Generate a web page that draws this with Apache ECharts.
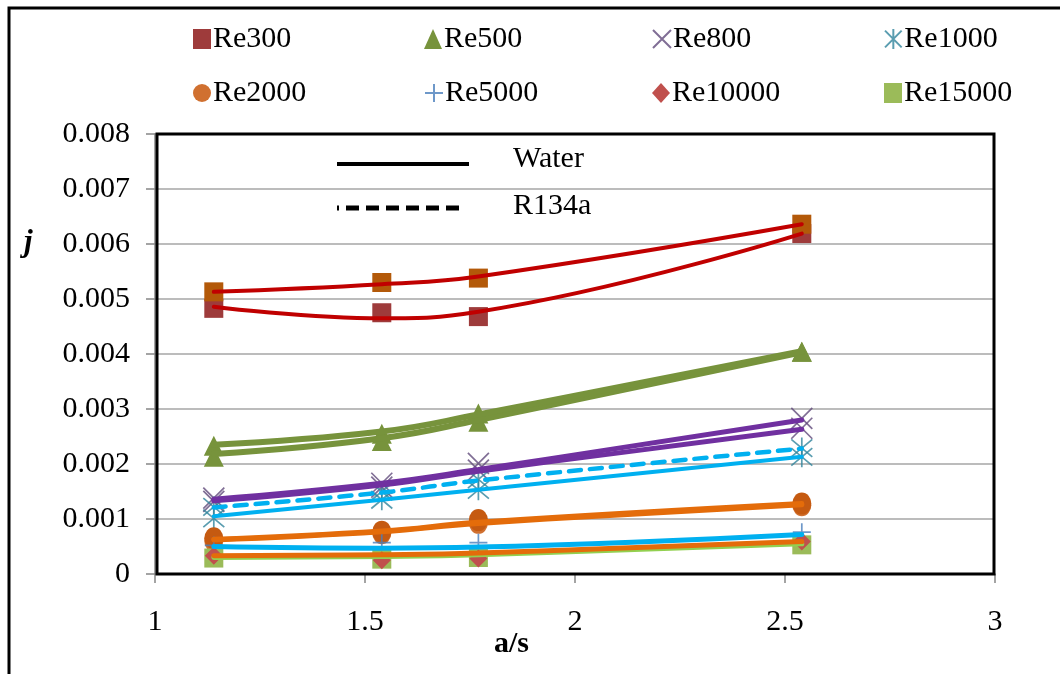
<!DOCTYPE html>
<html>
<head>
<meta charset="utf-8">
<script src="https://cdn.jsdelivr.net/npm/echarts@6/dist/echarts.min.js"></script>
<style>
html,body{margin:0;padding:0;background:#fff;}
#chart{width:1060px;height:674px;}
</style>
</head>
<body>
<div id="chart"></div>
<script>
// ---- data ----
const xVals = [1.14, 1.54, 1.77, 2.54];
const xTicks = ['1', '1.5', '2', '2.5', '3'];
const yTicks = ['0', '0.001', '0.002', '0.003', '0.004', '0.005', '0.006', '0.007', '0.008'];
const legendNames = ['Re300', 'Re500', 'Re800', 'Re1000', 'Re2000', 'Re5000', 'Re10000', 'Re15000'];

// markers (water / R134a) and trend lines (water / R134a)
const re300WaterMk = [0.00483, 0.00475, 0.00468, 0.00619];
const re300WaterLn = [0.00486, 0.00465, 0.00477, 0.00619];
const re300R134Mk  = [0.00513, 0.00530, 0.00538, 0.00636];
const re300R134Ln  = [0.00513, 0.00527, 0.00541, 0.00636];

const re500WaterMk = [0.00213, 0.00242, 0.00277, 0.00404];
const re500WaterLn = [0.00218, 0.00247, 0.00280, 0.00403];
const re500R134Mk  = [0.00233, 0.00255, 0.00292, 0.00404];
const re500R134Ln  = [0.00235, 0.00259, 0.00290, 0.00405];

const re800WaterMk = [0.00132, 0.00158, 0.00189, 0.00265];
const re800WaterLn = [0.00133, 0.00162, 0.00187, 0.00263];
const re800R134Mk  = [0.00138, 0.00165, 0.00201, 0.00283];
const re800R134Ln  = [0.00136, 0.00165, 0.00190, 0.00280];

const re1000WaterMk = [0.00101, 0.00135, 0.00153, 0.00213];
const re1000WaterLn = [0.00105, 0.00135, 0.00153, 0.00213];
const re1000R134Mk  = [0.00122, 0.00150, 0.00172, 0.00229];
const re1000R134Ln  = [0.00121, 0.00148, 0.00170, 0.00228];

const re2000WaterMk = [0.00060, 0.00074, 0.00093, 0.00125];
const re2000WaterLn = [0.00062, 0.00077, 0.00092, 0.00126];
const re2000R134Mk  = [0.00065, 0.00077, 0.00098, 0.00128];
const re2000R134Ln  = [0.00063, 0.00078, 0.00094, 0.00128];

const re5000Mk = [0.00052, 0.00057, 0.00057, 0.00076];
const re5000Ln = [0.00050, 0.00047, 0.00049, 0.00072];

const re10000Mk = [0.00033, 0.00025, 0.00028, 0.00059];
const re10000Ln = [0.00033, 0.00035, 0.00038, 0.00059];

const re15000Mk = [0.00029, 0.00027, 0.00030, 0.00053];
const re15000Ln = [0.00030, 0.00032, 0.00035, 0.00055];

// ---- helpers ----
const FONT = 'Liberation Serif';
const FS = 30;
const pts = arr => xVals.map((x, i) => [x, arr[i]]);
const X_PATH = 'path://M0,0 L10,10 M10,0 L0,10';
const STAR_PATH = 'path://M0,0 L10,10 M10,0 L0,10 M5,-1 L5,11';
const PLUS_PATH = 'path://M5,0 L5,10 M0,5 L10,5';

function ln(arr, color, width, dashed) {
  return {
    type: 'line', data: pts(arr), smooth: 0.45, symbol: 'none', showSymbol: false,
    lineStyle: { color: color, width: width, type: dashed ? [12, 9] : 'solid', cap: 'round' },
    z: 4, silent: true, legendHoverLink: false
  };
}
function mk(name, arr, symbol, size, color, stroke) {
  const s = {
    type: 'scatter', name: name, data: pts(arr), symbol: symbol, symbolSize: size, z: 2, silent: true
  };
  if (stroke) {
    s.itemStyle = { color: 'rgba(0,0,0,0)', borderColor: color, borderWidth: 1.7 };
  } else {
    s.itemStyle = { color: color, opacity: 1 };
  }
  return s;
}

const series = [
  mk('Re300', re300WaterMk, 'rect', 19, '#9E3B3B'),
  mk('Re300b', re300R134Mk, 'rect', 19, '#B35909'),
  mk('Re500', re500WaterMk, 'triangle', 20, '#77933C'),
  mk('Re500b', re500R134Mk, 'triangle', 20, '#77933C'),
  mk('Re800', re800WaterMk, X_PATH, 21, '#604A7B', true),
  mk('Re800b', re800R134Mk, X_PATH, 21, '#604A7B', true),
  mk('Re1000', re1000WaterMk, STAR_PATH, 21, '#31859C', true),
  mk('Re1000b', re1000R134Mk, STAR_PATH, 21, '#31859C', true),
  mk('Re2000', re2000WaterMk, 'circle', [19, 22], '#D07030'),
  mk('Re2000b', re2000R134Mk, 'circle', [19, 22], '#C55A11'),
  mk('Re5000', re5000Mk, PLUS_PATH, 18, '#4A7EBB', true),
  mk('Re15000', re15000Mk, 'rect', 19, '#9BBB59'),
  mk('Re10000', re10000Mk, 'diamond', 18, '#C0504D'),

  ln(re300WaterLn, '#C00000', 4),
  ln(re300R134Ln, '#C00000', 4),
  ln(re500WaterLn, '#77933C', 6),
  ln(re500R134Ln, '#77933C', 6),
  ln(re800WaterLn, '#7030A0', 5),
  ln(re800R134Ln, '#7030A0', 5),
  ln(re1000WaterLn, '#00B0F0', 4),
  ln(re1000R134Ln, '#00B0F0', 4.5, true),
  ln(re2000WaterLn, '#E46C0A', 5),
  ln(re2000R134Ln, '#E46C0A', 5),
  ln(re15000Ln, '#92D050', 5),
  ln(re5000Ln, '#00B0F0', 5),
  ln(re10000Ln, '#E46C0A', 5)
];

// legend positions
const legendPos = [
  [193, 24], [424, 24], [652, 24], [884, 24],
  [193, 78], [424, 78], [652, 78], [884, 78]
];
const legends = legendNames.map((n, i) => ({
  data: [n], left: legendPos[i][0], top: legendPos[i][1], orient: 'horizontal',
  itemWidth: 18, itemHeight: 20, itemGap: 0, padding: 0, selectedMode: false,
  textStyle: { fontFamily: FONT, fontSize: FS, color: '#000', padding: [0, 0, 0, -3] }
}));

const chart = echarts.init(document.getElementById('chart'), null, { renderer: 'canvas' });
chart.setOption({
  animation: false,
  backgroundColor: '#fff',
  legend: legends,
  grid: { left: 155, right: 65, top: 134, bottom: 100, show: false },
  xAxis: {
    type: 'value', min: 1, max: 3, interval: 0.5,
    axisLine: { show: true, onZero: false, lineStyle: { color: '#868686', width: 1.5 } },
    axisTick: { show: true, inside: false, length: 9, lineStyle: { color: '#868686', width: 1.5 } },
    splitLine: { show: false },
    axisLabel: { margin: 33, fontFamily: FONT, fontSize: FS, color: '#000',
      formatter: v => xTicks[Math.round((v - 1) / 0.5)] }
  },
  yAxis: {
    type: 'value', min: 0, max: 0.008, interval: 0.001,
    axisLine: { show: true, lineStyle: { color: '#868686', width: 1.5 } },
    axisTick: { show: true, inside: false, length: 9, lineStyle: { color: '#868686', width: 1.5 } },
    splitLine: { show: true, lineStyle: { color: '#A6A6A6', width: 1.5 } },
    axisLabel: { margin: 25, fontFamily: FONT, fontSize: FS, color: '#000',
      formatter: v => yTicks[Math.round(v / 0.001)] }
  },
  graphic: [
    { type: 'rect', shape: { x: 9, y: 8, width: 1200, height: 800 },
      style: { fill: 'none', stroke: '#000', lineWidth: 3 }, z: 100, silent: true },
    { type: 'rect', shape: { x: 157, y: 134, width: 837, height: 440 },
      style: { fill: 'none', stroke: '#000', lineWidth: 3 }, z: 100, silent: true },
    { type: 'line', shape: { x1: 337, y1: 164, x2: 469, y2: 164 },
      style: { stroke: '#000', lineWidth: 4 }, z: 100 },
    { type: 'line', shape: { x1: 337, y1: 208, x2: 339, y2: 208 },
      style: { stroke: '#000', lineWidth: 5 }, z: 100 },
    { type: 'line', shape: { x1: 346, y1: 208, x2: 460, y2: 208 },
      style: { stroke: '#000', lineWidth: 5, lineDash: [13, 7] }, z: 100 },
    { type: 'text', left: 513, top: 144,
      style: { text: 'Water', fontFamily: FONT, fontSize: FS, fill: '#000' }, z: 100 },
    { type: 'text', left: 513, top: 191,
      style: { text: 'R134a', fontFamily: FONT, fontSize: FS, fill: '#000' }, z: 100 },
    { type: 'text', left: 24, top: 227,
      style: { text: 'j', fontFamily: FONT, fontSize: 31, fontStyle: 'italic', fontWeight: 'bold', fill: '#000' }, z: 100 },
    { type: 'text', left: 494, top: 629,
      style: { text: 'a/s', fontFamily: FONT, fontSize: FS, fontWeight: 'bold', fill: '#000' }, z: 100 }
  ],
  series: series
});
</script>
</body>
</html>
